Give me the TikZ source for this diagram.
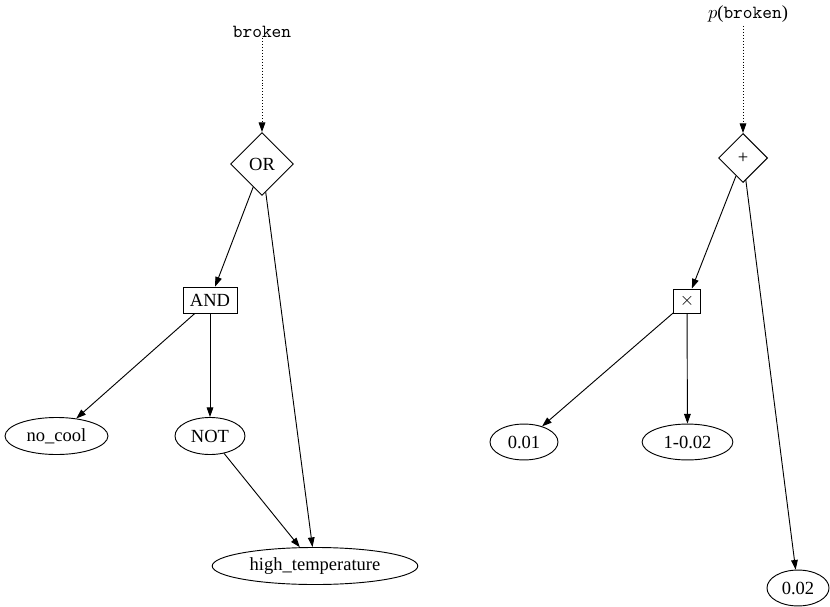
\documentclass[tikz,border=0pt]{standalone}
\usepackage{fontspec}
\setmainfont{Liberation Serif}
\usetikzlibrary{shapes.geometric,arrows.meta}
\begin{document}
\begin{tikzpicture}[x=0.54pt,y=-0.54pt,
  every node/.style={font=\fontsize{10}{12}\selectfont, inner sep=0pt},
  gate/.style={draw, diamond, line width=0.5pt},
  boxnode/.style={draw, rectangle, line width=0.5pt},
  leaf/.style={draw, ellipse, line width=0.5pt, minimum height=20pt},
  edge/.style={line width=0.5pt, -{Triangle[length=5.2pt,width=3.6pt]}},
  dotedge/.style={line width=0.5pt, dash pattern=on 0.5pt off 1.1pt, -{Triangle[length=5.2pt,width=3.6pt]}}]
\useasboundingbox (0,0) rectangle (830,607);
% left tree
\node (lbl) at (262,32) {\texttt{broken}};
\node[gate, minimum width=34pt, minimum height=34pt] (or) at (262,164) {OR};
\node[boxnode, minimum width=29.2pt, minimum height=14pt] (and) at (210,300) {AND};
\node[leaf, minimum width=55.6pt] (nocool) at (56.5,436) {no\_cool};
\node[leaf, minimum width=37.8pt] (not) at (210,436) {NOT};
\node[leaf, minimum width=111pt] (ht) at (315,566) {high\_temperature};
\draw[dotedge] (lbl) -- (or);
\draw[edge] (or) -- (and);
\draw[edge] (or) -- (ht);
\draw[edge] (and) -- (nocool);
\draw[edge] (and) -- (not);
\draw[edge] (not) -- (ht);
% right tree
\node (plbl) at (748,14) {$p$(\texttt{broken})};
\coordinate (pl) at (743,26);
\node[gate, minimum width=26.5pt, minimum height=26.5pt] (plus) at (743,158) {+};
\node[boxnode, minimum width=14.6pt, minimum height=13pt] (times) at (687,301) {$\times$};
\node[leaf, minimum width=36.7pt, minimum height=19.4pt] (a) at (524,442) {0.01};
\node[leaf, minimum width=49pt, minimum height=19.4pt] (b) at (687.5,442) {1-0.02};
\node[leaf, minimum width=33.5pt, minimum height=19.4pt] (c) at (798,588) {0.02};
\draw[dotedge] (pl) -- (plus);
\draw[edge] (plus) -- (times);
\draw[edge] (plus) -- (c);
\draw[edge] (times) -- (a);
\draw[edge] (times) -- (b);
\end{tikzpicture}
\end{document}
